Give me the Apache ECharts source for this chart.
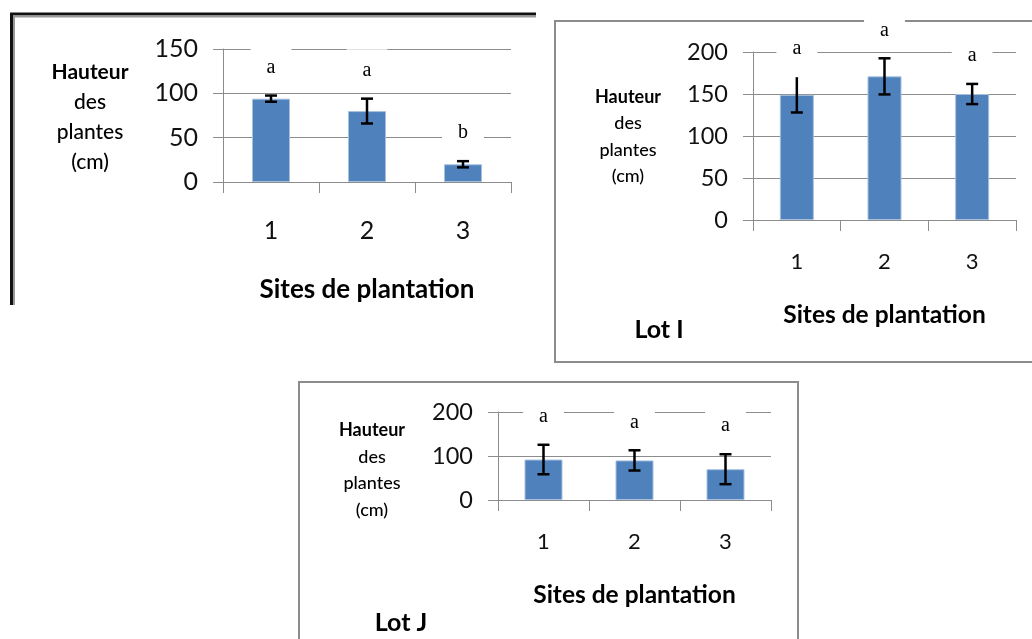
<!DOCTYPE html>
<html>
<head>
<meta charset="utf-8">
<script src="https://cdn.jsdelivr.net/npm/echarts@6/dist/echarts.min.js"></script>
<style>
  html, body { margin: 0; padding: 0; background: #fff; }
  #chart { width: 1032px; height: 639px; }
</style>
</head>
<body>
<div id="chart"></div>
<script>
  // site categories shared by the three lots
  var sites = ['1', '2', '3'];

  // top left panel
  var lotHMeans = [94, 80, 20];
  var lotHErrors = [3.5, 14, 3.5];
  var lotHLetters = ['a', 'a', 'b'];
  var lotHMax = 150, lotHStep = 50;

  // Lot I (top right) - first bar has no upper cap in the original
  var lotIMeans = [149, 171, 150];
  var lotIErrors = [21, 21.5, 12];
  var lotILetters = ['a', 'a', 'a'];
  var lotITopCap = [false, true, true];
  var lotIMax = 200, lotIStep = 50;

  // Lot J (bottom)
  var lotJMeans = [92, 90, 70];
  var lotJErrors = [33.5, 23, 34];
  var lotJLetters = ['a', 'a', 'a'];
  var lotJMax = 200, lotJStep = 100;

  var FONT = 'Lato, "Open Sans", sans-serif';
  var GRAY = '#8c8c8c';
  var BLUE = '#4f81bd';

  var myChart = echarts.init(document.getElementById('chart'));

  function errorBars(letters, topCap) {
    return function (params, api) {
      var x = api.value(0);
      var m = api.value(1);
      var e = api.value(2);
      var hi = api.coord([x, m + e]);
      var lo = api.coord([x, m - e]);
      var cap = 6;
      var st = { stroke: '#000', lineWidth: 2.5 };
      var children = [
        {
          type: 'text',
          style: {
            text: letters[params.dataIndex],
            x: hi[0], y: hi[1] - 28,
            align: 'center', verticalAlign: 'middle',
            font: '20px "Liberation Serif"', fill: '#000',
            backgroundColor: '#fff', padding: [16, 16, 7, 16]
          }
        },
        { type: 'line', shape: { x1: hi[0], y1: hi[1], x2: lo[0], y2: lo[1] }, style: st },
        { type: 'line', shape: { x1: lo[0] - cap, y1: lo[1], x2: lo[0] + cap, y2: lo[1] }, style: st }
      ];
      if (!topCap || topCap[params.dataIndex]) {
        children.push({ type: 'line', shape: { x1: hi[0] - cap, y1: hi[1], x2: hi[0] + cap, y2: hi[1] }, style: st });
      }
      return { type: 'group', children: children };
    };
  }

  function errData(means, errs) {
    var out = [];
    for (var i = 0; i < means.length; i++) {
      out.push([i, means[i], errs[i]]);
    }
    return out;
  }

  function xAxisFor(idx, labelSize, labelMargin, nameSize, nameGap) {
    return {
      type: 'category',
      gridIndex: idx,
      data: sites,
      axisLine: { lineStyle: { color: GRAY, width: 1 } },
      axisTick: { show: true, length: 11, lineStyle: { color: GRAY } },
      axisLabel: { color: '#111', fontSize: labelSize, fontFamily: FONT, margin: labelMargin },
      name: 'Sites de plantation',
      nameLocation: 'middle',
      nameGap: nameGap,
      nameTextStyle: { color: '#000', fontSize: nameSize, fontWeight: 'bold', fontFamily: FONT }
    };
  }

  function yAxisFor(idx, max, step, labelSize) {
    return {
      type: 'value',
      gridIndex: idx,
      min: 0,
      max: max,
      interval: step,
      axisLine: { show: true, lineStyle: { color: GRAY, width: 1 } },
      axisTick: { show: true, length: 10, lineStyle: { color: GRAY } },
      splitLine: { show: true, lineStyle: { color: GRAY, width: 1 } },
      axisLabel: { color: '#111', fontSize: labelSize, fontFamily: FONT, margin: 25 }
    };
  }

  function barSeries(idx, means, width) {
    return {
      type: 'bar',
      xAxisIndex: idx,
      yAxisIndex: idx,
      data: means,
      barWidth: width,
      itemStyle: { color: BLUE, borderColor: '#a7c0de', borderWidth: 1 },
      z: 2
    };
  }

  function errSeries(idx, means, errs, letters, topCap) {
    return {
      type: 'custom',
      xAxisIndex: idx,
      yAxisIndex: idx,
      data: errData(means, errs),
      encode: { x: 0, y: 1 },
      renderItem: errorBars(letters, topCap),
      z: 5
    };
  }

  function yName(cx, top, step, size) {
    var lines = ['Hauteur', 'des', 'plantes', '(cm)'];
    var out = [];
    for (var i = 0; i < lines.length; i++) {
      out.push({
        type: 'text',
        x: cx, y: top + i * step,
        style: {
          text: lines[i], align: 'center', verticalAlign: 'middle',
          font: (i === 0 ? 'bold ' : '500 ') + size + 'px ' + FONT, fill: '#000'
        }
      });
    }
    return out;
  }

  var graphics = [
    // frame of the top-left panel (dark edge + grey shadow)
    { type: 'line', shape: { x1: 10, y1: 14, x2: 536, y2: 14 }, style: { stroke: '#111', lineWidth: 3 } },
    { type: 'line', shape: { x1: 12, y1: 16.5, x2: 536, y2: 16.5 }, style: { stroke: '#999', lineWidth: 2 } },
    { type: 'line', shape: { x1: 11.5, y1: 13, x2: 11.5, y2: 305 }, style: { stroke: '#111', lineWidth: 3 } },
    { type: 'line', shape: { x1: 14, y1: 16, x2: 14, y2: 305 }, style: { stroke: '#999', lineWidth: 2 } },
    // Lot I frame
    { type: 'rect', shape: { x: 555, y: 21, width: 500, height: 341 }, style: { fill: 'none', stroke: '#8c8c8c', lineWidth: 2 } },
    // Lot J frame
    { type: 'rect', shape: { x: 299, y: 382, width: 499, height: 300 }, style: { fill: 'none', stroke: '#8c8c8c', lineWidth: 2 } },
    { type: 'text', x: 659, y: 330, style: { text: 'Lot I', align: 'center', verticalAlign: 'middle', font: 'bold 25px ' + FONT, fill: '#000' } },
    { type: 'text', x: 401, y: 623, style: { text: 'Lot J', align: 'center', verticalAlign: 'middle', font: 'bold 25px ' + FONT, fill: '#000' } }
  ];
  graphics = graphics.concat(yName(90, 72, 30, 21), yName(628, 97, 26.5, 18), yName(372, 430, 26.7, 18));

  myChart.setOption({
    animation: false,
    backgroundColor: '#fff',
    grid: [
      { left: 223, top: 49, width: 288, height: 133 },
      { left: 753, top: 52, width: 263, height: 168 },
      { left: 498, top: 412, width: 273, height: 88 }
    ],
    xAxis: [
      xAxisFor(0, 25, 36, 26, 95),
      xAxisFor(1, 22, 31, 24.5, 83),
      xAxisFor(2, 22, 31, 24.5, 83)
    ],
    yAxis: [
      yAxisFor(0, lotHMax, lotHStep, 25),
      yAxisFor(1, lotIMax, lotIStep, 23.5),
      yAxisFor(2, lotJMax, lotJStep, 23.5)
    ],
    graphic: graphics,
    series: [
      barSeries(0, lotHMeans, 38),
      errSeries(0, lotHMeans, lotHErrors, lotHLetters),
      barSeries(1, lotIMeans, 34),
      errSeries(1, lotIMeans, lotIErrors, lotILetters, lotITopCap),
      barSeries(2, lotJMeans, 38),
      errSeries(2, lotJMeans, lotJErrors, lotJLetters)
    ]
  });
</script>
</body>
</html>
